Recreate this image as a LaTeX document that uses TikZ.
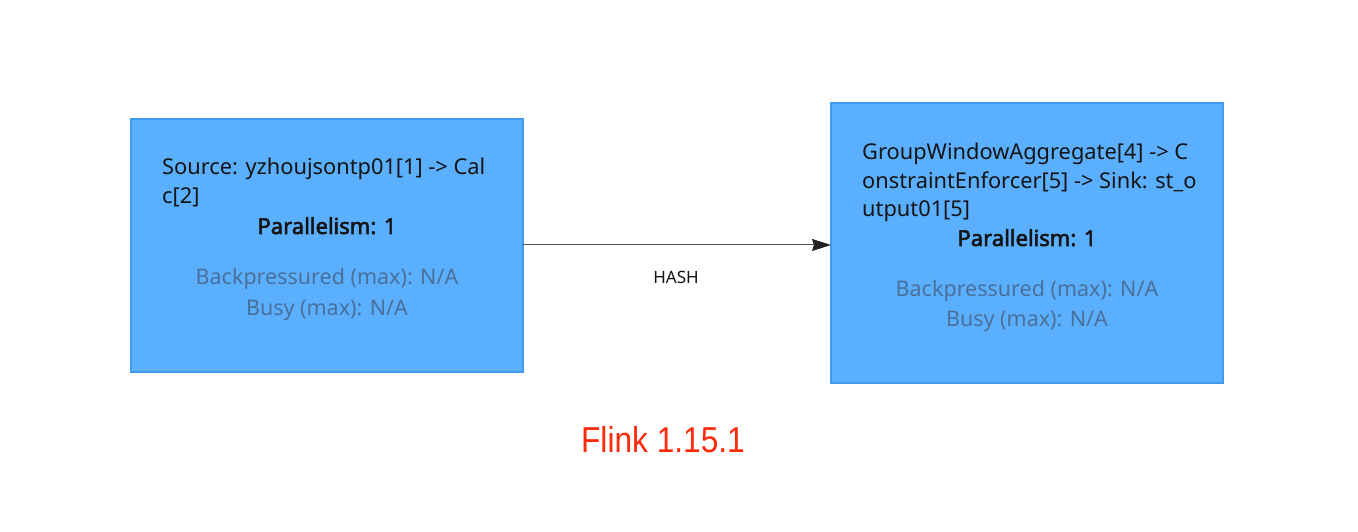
\documentclass[tikz,border=0pt]{standalone}
\usepackage{fontspec}
\newfontfamily\uifont{Noto Sans}
\newfontfamily\uiboldfont{Noto Sans}[FakeBold=2.5]
\newfontfamily\redfont{Liberation Sans}
\usetikzlibrary{arrows.meta}
\definecolor{boxfill}{HTML}{5BAFFF}
\definecolor{boxline}{HTML}{3E9BEF}
\definecolor{maintext}{HTML}{141414}
\definecolor{metric}{HTML}{48709A}
\definecolor{edge}{HTML}{555555}
\definecolor{tipcol}{HTML}{222222}
\definecolor{flinkred}{HTML}{FF2A0A}
\begin{document}
\begin{tikzpicture}[x=1pt,y=1pt,
  opbox/.style={draw=boxline,fill=boxfill,line width=1.2pt,minimum width=392pt,inner sep=0pt,outer sep=0pt},
  nametext/.style={anchor=base west,inner sep=0pt,font=\uifont\fontsize{21.8}{24}\selectfont,text=maintext},
  partext/.style={anchor=base,inner sep=0pt,font=\uiboldfont\fontsize{22}{24}\selectfont,text=maintext},
  mettext/.style={anchor=base,inner sep=0pt,font=\uifont\fontsize{21.5}{24}\selectfont,text=metric},
  edgelabel/.style={anchor=base,inner sep=0pt,font=\uifont\fontsize{17}{19}\selectfont,text=maintext},
  flow/.style={draw=edge,line width=1pt,-{Stealth[length=19pt,width=12pt,inset=2pt,color=tipcol]}}]
\useasboundingbox (0,0) rectangle (1358,532);
% boxes
\node[opbox,minimum height=253pt] (b1) at (327,286.5) {};
\node[opbox,minimum height=280pt] (b2) at (1027,289) {};
% left box text
\node[nametext] (b1n1) at (162,{532-175}) {Source: yzhoujsontp01[1] -> Cal};
\node[nametext] (b1n2) at (162,{532-204}) {c[2]};
\node[partext] (b1p) at (327,{532-234}) {Parallelism: 1};
\node[mettext] (b1m1) at (327,{532-285}) {Backpressured (max): N/A};
\node[mettext] (b1m2) at (327,{532-316}) {Busy (max): N/A};
% right box text
\node[nametext] (b2n1) at (862,{532-160}) {GroupWindowAggregate[4] -> C};
\node[nametext] (b2n2) at (862,{532-189}) {onstraintEnforcer[5] -> Sink: st\_o};
\node[nametext] (b2n3) at (862,{532-217}) {utput01[5]};
\node[partext] (b2p) at (1027,{532-246}) {Parallelism: 1};
\node[mettext] (b2m1) at (1027,{532-297}) {Backpressured (max): N/A};
\node[mettext] (b2m2) at (1027,{532-327}) {Busy (max): N/A};
% connector
\draw[flow] (b1.east |- 0,287) coordinate (e1) -- (e1 -| b2.west);
\node[edgelabel] (hash) at (676,{532-284}) {HASH};
% caption
\node[anchor=base,inner sep=0pt,font=\redfont\fontsize{36}{40}\selectfont,text=flinkred,xscale=0.88,transform shape] (cap) at (663,{532-453}) {Flink 1.15.1};
\end{tikzpicture}
\end{document}
